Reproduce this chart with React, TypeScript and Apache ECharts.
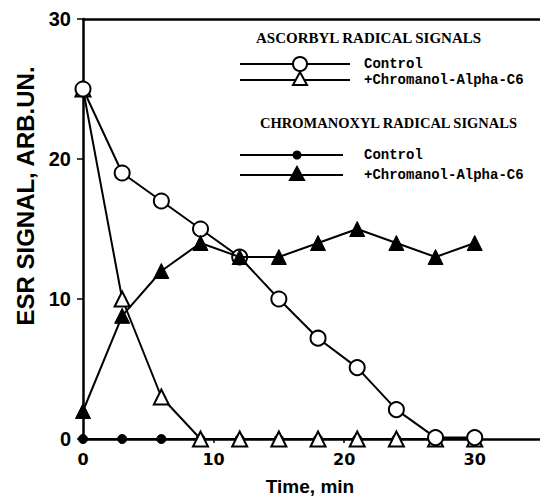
import React, { useEffect, useRef } from "react";
import * as echarts from "echarts";

const times = [0, 3, 6, 9, 12, 15, 18, 21, 24, 27, 30];
const ascorbylControl = [25, 19, 17, 15, 13, 10, 7.2, 5.1, 2.1, 0.1, 0.1];
const ascorbylChromanol = [25, 10, 3, 0, 0, 0, 0, 0, 0, 0, 0];
const chromanoxylControl = [0, 0, 0, 0, 0, 0, 0, 0, 0, 0, 0];
const chromanoxylChromanol = [2, 8.8, 12, 14, 13, 13, 14, 15, 14, 13, 14];
const xTicks = [0, 10, 20, 30];
const yTicks = [0, 10, 20, 30];

const headingA = "ASCORBYL RADICAL SIGNALS";
const headingB = "CHROMANOXYL RADICAL SIGNALS";
const labelControl = "Control";
const labelChromanol = "+Chromanol-Alpha-C6";
const xTitle = "Time, min";
const yTitle = "ESR SIGNAL, ARB.UN.";

const pairs = (ys: number[]) => times.map((t, i) => [t, ys[i]]);

export default function App() {
  const ref = useRef<HTMLDivElement>(null);
  useEffect(() => {
    if (!ref.current) return;
    const chart = echarts.init(ref.current, undefined, { renderer: "svg" });
    const black = "#000";
    const sans = "'Liberation Sans', Arial, sans-serif";
    const serif = "'Liberation Serif', 'Times New Roman', serif";
    const mono = "'Liberation Mono', 'Courier New', monospace";
    const lineBase = { type: "line" as const, xAxisIndex: 0, yAxisIndex: 0, lineStyle: { color: black, width: 2 }, z: 3 };
    const legendRow = (y: number, sym: any, text: string, x1 = 240, x2 = 350) => [
      { type: "line", shape: { x1, y1: y, x2, y2: y }, style: { stroke: black, lineWidth: 2 } },
      sym,
      { type: "text", x: 364, y, style: { text, font: `bold 14px ${mono}`, fill: black, textVerticalAlign: "middle" } },
    ];
    const tri = (cx: number, cy: number, filled: boolean) => ({
      type: "polygon",
      shape: { points: [[cx, cy - 8], [cx - 7, cy + 5], [cx + 7, cy + 5]] },
      style: { fill: filled ? black : "#fff", stroke: black, lineWidth: 2 },
      z: 10,
    });
    chart.setOption({
      animation: false,
      backgroundColor: "#fff",
      grid: { left: 83, top: 19, width: 459, height: 420, containLabel: false },
      xAxis: [
        {
          type: "value",
          min: 0,
          max: 35,
          interval: 10,
          axisLine: { show: true, lineStyle: { color: black, width: 2.5 } },
          axisTick: { show: true, length: 4, lineStyle: { color: black, width: 1.5 }, customValues: xTicks },
          axisLabel: {
            color: black,
            fontFamily: "'DejaVu Sans', sans-serif",
            fontWeight: "bold",
            fontSize: 16,
            margin: 12,
            customValues: xTicks,
          },
          splitLine: { show: false },
        },
        {
          type: "value",
          position: "top",
          min: 0,
          max: 35,
          axisLine: { show: true, onZero: false, lineStyle: { color: black, width: 2.5 } },
          axisTick: { show: false },
          axisLabel: { show: false },
          splitLine: { show: false },
        },
      ],
      yAxis: {
        type: "value",
        min: 0,
        max: 30,
        interval: 10,
        axisLine: { show: true, lineStyle: { color: black, width: 2.5 } },
        axisTick: { show: true, length: 6, lineStyle: { color: black, width: 1.5 }, customValues: yTicks },
        axisLabel: {
          color: black,
          fontFamily: sans,
          fontWeight: "bold",
          fontSize: 20,
          margin: 12,
          customValues: yTicks,
        },
        splitLine: { show: false },
      },
      series: [
        {
          ...lineBase,
          name: "chromanoxyl control",
          data: pairs(chromanoxylControl),
          symbol: "circle",
          symbolSize: 9,
          itemStyle: { color: black, borderColor: black },
          z: 2,
        },
        {
          ...lineBase,
          name: "ascorbyl chromanol",
          data: pairs(ascorbylChromanol),
          symbol: "triangle",
          symbolSize: 15,
          itemStyle: { color: "#fff", borderColor: black, borderWidth: 2 },
        },
        {
          ...lineBase,
          name: "ascorbyl control",
          data: pairs(ascorbylControl),
          symbol: "circle",
          symbolSize: 15,
          itemStyle: { color: "#fff", borderColor: black, borderWidth: 2 },
        },
        {
          ...lineBase,
          name: "chromanoxyl chromanol",
          data: pairs(chromanoxylChromanol),
          symbol: "triangle",
          symbolSize: 15,
          itemStyle: { color: black, borderColor: black, borderWidth: 1 },
          z: 4,
        },
      ],
      graphic: [
        {
          type: "text",
          x: 25,
          y: 196,
          rotation: Math.PI / 2,
          style: {
            text: yTitle,
            font: `bold 24px ${sans}`,
            fill: black,
            textAlign: "center",
            textVerticalAlign: "middle",
          },
        },
        {
          type: "text",
          x: 310,
          y: 486,
          style: {
            text: xTitle,
            font: `bold 19px ${sans}`,
            fill: black,
            textAlign: "center",
            textVerticalAlign: "middle",
          },
        },
        {
          type: "text",
          x: 256,
          y: 38,
          style: { text: headingA, font: `bold 15px ${serif}`, fill: black, textVerticalAlign: "middle" },
        },
        ...legendRow(64, { type: "circle", shape: { cx: 300, cy: 64, r: 7 }, style: { fill: "#fff", stroke: black, lineWidth: 2 }, z: 10 }, labelControl),
        ...legendRow(80, tri(300, 80, false), labelChromanol),
        {
          type: "text",
          x: 260,
          y: 123,
          style: { text: headingB, font: `bold 14.5px ${serif}`, fill: black, textVerticalAlign: "middle" },
        },
        ...legendRow(155, { type: "circle", shape: { cx: 297, cy: 155, r: 4.5 }, style: { fill: black }, z: 10 }, labelControl, 240, 343),
        ...legendRow(175, tri(297, 175, true), labelChromanol, 240, 343),
      ],
    });
    return () => chart.dispose();
  }, []);
  return <div ref={ref} style={{ width: 540, height: 497, position: "absolute", left: 0, top: 0 }} />;
}
